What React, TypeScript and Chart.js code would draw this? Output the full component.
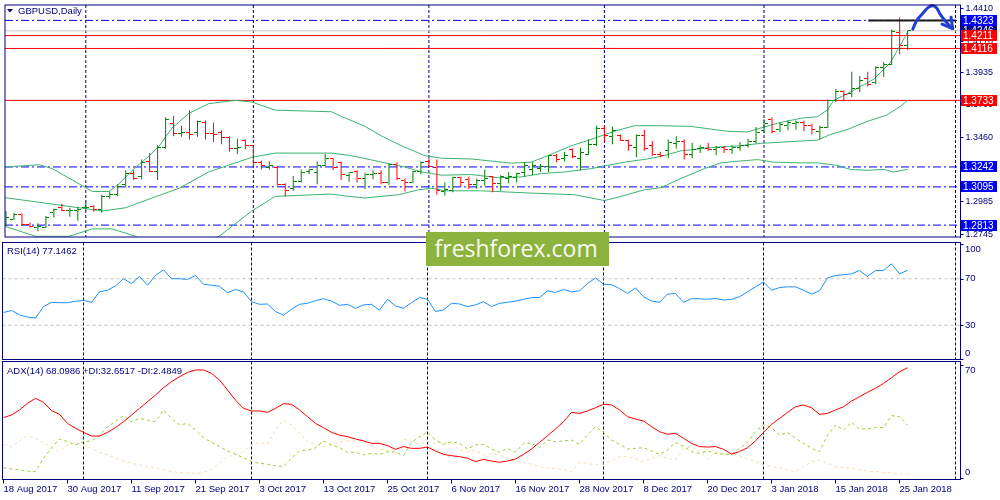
import React, { useEffect, useRef } from 'react';
import { Chart, registerables } from 'chart.js';

Chart.register(...registerables);

// ---------------- data ----------------
// Daily bars, 18 Aug 2017 .. 26 Jan 2018 (index 0..113)
const barOpen = [
  1.2860, 1.2857, 1.2893, 1.2821, 1.2797, 1.2797, 1.2905, 1.2941, 1.2917, 1.2917,
  1.2941, 1.2953, 1.2927, 1.3025, 1.3042, 1.3109, 1.3193, 1.3169, 1.3282, 1.3205,
  1.3385, 1.3560, 1.3488, 1.3498, 1.3493, 1.3570, 1.3488, 1.3493, 1.3457, 1.3378,
  1.3440, 1.3397, 1.3277, 1.3241, 1.3241, 1.3114, 1.3085, 1.3138, 1.3210, 1.3200,
  1.3253, 1.3301, 1.3277, 1.3181, 1.3205, 1.3157, 1.3186, 1.3193, 1.3128, 1.3258,
  1.3145, 1.3128, 1.3205, 1.3282, 1.3241, 1.3061, 1.3066, 1.3162, 1.3150, 1.3114,
  1.3145, 1.3169, 1.3121, 1.3157, 1.3162, 1.3200, 1.3224, 1.3234, 1.3248, 1.3330,
  1.3306, 1.3368, 1.3306, 1.3337, 1.3409, 1.3529, 1.3469, 1.3474, 1.3440, 1.3385,
  1.3474, 1.3397, 1.3337, 1.3361, 1.3416, 1.3433, 1.3337, 1.3378, 1.3378, 1.3368,
  1.3383, 1.3368, 1.3385, 1.3397, 1.3433, 1.3513, 1.3594, 1.3517, 1.3546, 1.3560,
  1.3570, 1.3546, 1.3505, 1.3536, 1.3733, 1.3800, 1.3781, 1.3824, 1.3896, 1.3865,
  1.3978, 1.3997, 1.4237, 1.4141,
];
const barHigh = [
  1.2917, 1.2905, 1.2898, 1.2833, 1.2826, 1.2881, 1.2936, 1.2970, 1.2941, 1.2946,
  1.2989, 1.2960, 1.3037, 1.3061, 1.3114, 1.3217, 1.3217, 1.3296, 1.3344, 1.3402,
  1.3608, 1.3618, 1.3546, 1.3661, 1.3584, 1.3584, 1.3570, 1.3513, 1.3469, 1.3450,
  1.3445, 1.3402, 1.3289, 1.3282, 1.3248, 1.3121, 1.3176, 1.3224, 1.3229, 1.3282,
  1.3337, 1.3306, 1.3282, 1.3205, 1.3217, 1.3200, 1.3217, 1.3217, 1.3265, 1.3277,
  1.3157, 1.3210, 1.3284, 1.3306, 1.3296, 1.3128, 1.3169, 1.3169, 1.3169, 1.3157,
  1.3224, 1.3176, 1.3181, 1.3205, 1.3200, 1.3277, 1.3277, 1.3265, 1.3330, 1.3337,
  1.3354, 1.3378, 1.3385, 1.3445, 1.3546, 1.3546, 1.3541, 1.3481, 1.3445, 1.3481,
  1.3517, 1.3433, 1.3354, 1.3445, 1.3469, 1.3445, 1.3421, 1.3402, 1.3421, 1.3397,
  1.3397, 1.3402, 1.3426, 1.3450, 1.3536, 1.3594, 1.3608, 1.3570, 1.3584, 1.3584,
  1.3584, 1.3560, 1.3546, 1.3738, 1.3817, 1.3805, 1.3944, 1.3913, 1.3944, 1.3985,
  1.4016, 1.4256, 1.4345, 1.4249,
];
const barLow = [
  1.2809, 1.2850, 1.2809, 1.2797, 1.2768, 1.2792, 1.2869, 1.2917, 1.2874, 1.2845,
  1.2917, 1.2912, 1.2905, 1.3008, 1.3025, 1.3090, 1.3145, 1.3152, 1.3205, 1.3145,
  1.3378, 1.3469, 1.3464, 1.3445, 1.3464, 1.3445, 1.3426, 1.3409, 1.3354, 1.3337,
  1.3373, 1.3248, 1.3224, 1.3224, 1.3104, 1.3025, 1.3066, 1.3128, 1.3190, 1.3114,
  1.3248, 1.3217, 1.3145, 1.3133, 1.3128, 1.3080, 1.3152, 1.3114, 1.3109, 1.3145,
  1.3061, 1.3121, 1.3186, 1.3241, 1.3037, 1.3032, 1.3056, 1.3097, 1.3080, 1.3080,
  1.3104, 1.3056, 1.3066, 1.3121, 1.3128, 1.3169, 1.3181, 1.3205, 1.3205, 1.3277,
  1.3282, 1.3306, 1.3217, 1.3330, 1.3397, 1.3426, 1.3409, 1.3433, 1.3361, 1.3313,
  1.3361, 1.3325, 1.3313, 1.3306, 1.3378, 1.3296, 1.3306, 1.3344, 1.3361, 1.3330,
  1.3344, 1.3337, 1.3361, 1.3385, 1.3416, 1.3493, 1.3488, 1.3498, 1.3513, 1.3517,
  1.3505, 1.3481, 1.3445, 1.3529, 1.3721, 1.3733, 1.3757, 1.3793, 1.3834, 1.3853,
  1.3906, 1.3992, 1.4074, 1.4105,
];
const barClose = [
  1.2869, 1.2893, 1.2814, 1.2802, 1.2802, 1.2869, 1.2929, 1.2922, 1.2922, 1.2929,
  1.2946, 1.2927, 1.3025, 1.3037, 1.3097, 1.3193, 1.3157, 1.3277, 1.3205, 1.3385,
  1.3589, 1.3488, 1.3498, 1.3484, 1.3577, 1.3488, 1.3481, 1.3457, 1.3378, 1.3385,
  1.3397, 1.3272, 1.3253, 1.3253, 1.3114, 1.3066, 1.3138, 1.3200, 1.3222, 1.3253,
  1.3301, 1.3241, 1.3186, 1.3200, 1.3157, 1.3186, 1.3193, 1.3128, 1.3258, 1.3157,
  1.3128, 1.3205, 1.3277, 1.3248, 1.3066, 1.3073, 1.3162, 1.3128, 1.3114, 1.3145,
  1.3155, 1.3121, 1.3169, 1.3169, 1.3193, 1.3253, 1.3253, 1.3248, 1.3325, 1.3296,
  1.3325, 1.3320, 1.3349, 1.3409, 1.3529, 1.3474, 1.3513, 1.3440, 1.3397, 1.3474,
  1.3378, 1.3337, 1.3325, 1.3421, 1.3426, 1.3337, 1.3373, 1.3385, 1.3368, 1.3383,
  1.3368, 1.3385, 1.3397, 1.3433, 1.3498, 1.3560, 1.3505, 1.3553, 1.3570, 1.3570,
  1.3546, 1.3517, 1.3536, 1.3733, 1.3800, 1.3776, 1.3817, 1.3882, 1.3848, 1.3978,
  1.3997, 1.4241, 1.4136, 1.4246,
];

// Bollinger bands: [bar index, price]
const bbUpperIdx = [-0.42, 4.17, 5.83, 10.83, 12.9, 14, 16.25, 17.9, 19.2, 20.8, 22.9, 25.4, 28.75, 30.8, 33.75, 40.8, 42.1, 45, 47.1, 49.6, 52.5, 54.6, 58.3, 63.3, 65.8, 67.9, 70.8, 73.3, 76.25, 78.75, 82.1, 85.8, 90.4, 92.9, 94.6, 96.7, 99.6, 101.7, 102.9, 103.75, 105.4, 108.75, 110.8, 112.1, 113];
const bbUpperVal = [1.3241, 1.3258, 1.3229, 1.3061, 1.3061, 1.3109, 1.3240, 1.3320, 1.3397, 1.3529, 1.3637, 1.3709, 1.3733, 1.3721, 1.3661, 1.3649, 1.3613, 1.3541, 1.3469, 1.3397, 1.3325, 1.3306, 1.3301, 1.3270, 1.3277, 1.3325, 1.3397, 1.3445, 1.3505, 1.3546, 1.3546, 1.3541, 1.3505, 1.3500, 1.3529, 1.3565, 1.3601, 1.3613, 1.3661, 1.3733, 1.3781, 1.3889, 1.4009, 1.4141, 1.4237];
const bbMidIdx = [-0.42, 12.1, 15, 18.3, 21.7, 25.4, 30.8, 33.75, 40.8, 43.3, 47.1, 50, 52.1, 54.6, 58.3, 61.7, 64.6, 67.1, 70, 73.3, 75.4, 77.5, 80.4, 82.1, 84.6, 88.3, 91.7, 94.6, 97.5, 101.7, 103.3, 105.4, 107.9, 110.4, 112.1, 113];
const bbMidVal = [1.3018, 1.2917, 1.2941, 1.3013, 1.3085, 1.3205, 1.3313, 1.3344, 1.3344, 1.3325, 1.3277, 1.3241, 1.3205, 1.3181, 1.3186, 1.3162, 1.3169, 1.3193, 1.3205, 1.3229, 1.3253, 1.3277, 1.3301, 1.3320, 1.3361, 1.3385, 1.3397, 1.3416, 1.3426, 1.3440, 1.3481, 1.3517, 1.3577, 1.3625, 1.3690, 1.3733];
const bbLowIdx = [-0.42, 3.75, 7.9, 10.8, 13.3, 16.25, 19.2, 22.9, 25.4, 26.7, 30.8, 33.75, 40.8, 42.9, 45, 47.1, 49.2, 51.7, 53.3, 55, 59.6, 65.8, 71.25, 75, 77.1, 80, 82.1, 84.6, 87.5, 89.6, 91.25, 94.2, 96.25, 99.6, 101.7, 104.2, 105.8, 107.9, 110, 111.25, 113];
const bbLowVal = [1.2809, 1.2730, 1.2730, 1.2785, 1.2785, 1.2730, 1.2640, 1.2570, 1.2700, 1.2730, 1.2917, 1.3025, 1.3042, 1.3025, 1.3013, 1.3025, 1.3037, 1.3073, 1.3085, 1.3066, 1.3066, 1.3049, 1.3037, 1.2994, 1.3025, 1.3073, 1.3090, 1.3157, 1.3229, 1.3272, 1.3282, 1.3296, 1.3277, 1.3272, 1.3272, 1.3253, 1.3224, 1.3217, 1.3224, 1.3205, 1.3224];

const rsiValues = [
  41.0, 42.7, 39.0, 37.0, 36.2, 46.1, 49.7, 49.4, 49.4, 50.6,
  51.4, 49.7, 58.7, 60.1, 63.8, 70.0, 65.8, 72.0, 64.4, 72.8,
  77.6, 70.0, 70.0, 69.4, 72.8, 65.2, 64.4, 63.5, 57.9, 60.7,
  58.7, 50.3, 48.0, 48.3, 41.8, 38.7, 43.8, 48.0, 48.9, 51.1,
  52.8, 50.8, 47.2, 48.0, 44.6, 47.5, 48.0, 43.0, 52.3, 46.6,
  44.6, 49.4, 53.9, 52.3, 41.8, 43.2, 48.9, 48.3, 46.1, 47.5,
  50.3, 46.1, 48.9, 49.7, 50.8, 52.3, 53.7, 53.9, 59.6, 58.2,
  60.7, 58.7, 59.6, 65.8, 70.6, 65.2, 64.9, 61.5, 57.3, 62.1,
  54.5, 50.8, 49.7, 56.8, 57.3, 49.7, 52.8, 52.8, 52.3, 53.1,
  51.7, 52.3, 54.5, 58.7, 63.0, 67.2, 60.1, 62.4, 63.0, 63.0,
  60.1, 56.8, 59.6, 70.6, 72.8, 73.4, 74.2, 77.0, 72.0, 77.0,
  77.0, 82.7, 74.2, 77.1462,
];
const adxValues = [
  37.3, 38.9, 42.0, 46.1, 49.2, 46.7, 41.6, 39.3, 33.7, 30.7,
  28.2, 25.9, 25.9, 28.2, 31.1, 34.8, 38.9, 43.0, 47.1, 51.2,
  55.8, 59.5, 62.5, 65.2, 66.7, 66.7, 64.6, 60.5, 54.3, 48.1,
  43.0, 41.4, 41.4, 40.5, 43.0, 45.9, 45.5, 42.0, 37.9, 33.7,
  31.1, 28.2, 26.5, 25.5, 24.1, 22.9, 21.4, 21.4, 20.0, 17.7,
  19.4, 18.3, 18.3, 19.1, 16.7, 14.6, 13.8, 13.2, 12.2, 10.1,
  11.5, 10.5, 9.7, 10.5, 11.7, 14.6, 17.9, 22.0, 26.1, 30.3,
  34.8, 40.5, 39.9, 41.4, 43.4, 45.5, 45.1, 42.0, 37.9, 36.4,
  35.2, 31.7, 28.6, 27.0, 27.6, 24.5, 21.4, 19.4, 19.1, 19.4,
  17.7, 14.8, 16.3, 18.7, 22.9, 28.2, 33.1, 36.8, 40.5, 44.0,
  45.1, 43.4, 39.3, 39.9, 42.0, 44.0, 47.5, 50.2, 52.9, 55.4,
  58.4, 61.9, 65.6, 68.0986,
];
const plusDiValues = [
  6.4, 5.6, 5.0, 4.3, 3.9, 12.2, 18.7, 24.1, 22.4, 20.4,
  22.4, 22.9, 26.5, 31.7, 34.8, 38.5, 34.8, 36.8, 35.8, 34.8,
  42.0, 36.8, 32.7, 33.7, 29.6, 24.9, 22.0, 19.4, 16.7, 14.6,
  12.6, 10.1, 9.1, 8.5, 7.6, 7.0, 12.2, 16.7, 17.3, 18.7,
  22.9, 20.4, 18.7, 15.9, 15.9, 14.2, 15.2, 14.6, 16.3, 15.9,
  13.8, 22.0, 25.5, 28.2, 23.4, 20.8, 22.4, 21.4, 17.9, 20.4,
  20.8, 17.9, 15.9, 18.3, 15.9, 21.4, 21.4, 18.7, 23.4, 22.4,
  22.9, 23.4, 20.8, 26.5, 31.7, 28.2, 23.4, 20.8, 17.9, 18.3,
  18.7, 16.7, 14.6, 17.3, 22.0, 19.4, 16.3, 15.2, 16.7, 15.2,
  14.6, 14.6, 18.3, 22.0, 28.6, 33.1, 31.1, 26.5, 28.2, 24.5,
  21.4, 18.3, 16.3, 26.5, 32.7, 29.6, 34.4, 30.3, 30.3, 31.1,
  31.1, 38.5, 37.9, 32.6517,
];
const minusDiValues = [
  20.8, 19.4, 22.9, 26.1, 24.5, 22.0, 18.7, 16.3, 20.4, 22.0,
  20.4, 18.3, 15.9, 14.2, 12.2, 10.5, 9.1, 8.0, 7.0, 6.4,
  5.0, 3.9, 3.5, 2.9, 2.7, 3.5, 5.6, 9.1, 13.2, 14.2,
  16.3, 20.4, 22.0, 20.8, 29.6, 35.8, 32.7, 27.6, 22.4, 20.8,
  19.4, 20.0, 22.0, 22.9, 22.9, 22.9, 19.4, 17.9, 17.3, 17.3,
  24.1, 22.4, 20.8, 22.4, 21.4, 22.0, 21.4, 17.3, 16.3, 17.3,
  14.2, 15.2, 14.2, 12.2, 10.5, 9.7, 8.5, 7.0, 6.0, 6.0,
  5.0, 3.9, 9.7, 9.1, 8.0, 9.1, 10.5, 13.2, 13.2, 12.2,
  10.1, 12.2, 13.8, 12.2, 11.1, 18.3, 19.4, 16.3, 11.7, 16.3,
  15.2, 14.6, 13.8, 11.7, 10.1, 8.0, 7.0, 6.4, 5.0, 3.9,
  7.0, 10.1, 11.1, 9.1, 7.0, 6.4, 6.0, 5.0, 4.3, 3.9,
  3.5, 3.1, 2.5, 2.4849,
];

const dateTickIdx = [0, 8, 16, 24, 32, 40, 48, 56, 64, 72, 80, 88, 96, 104, 112];
const dateLabels = [
  '18 Aug 2017', '30 Aug 2017', '11 Sep 2017', '21 Sep 2017', '3 Oct 2017',
  '13 Oct 2017', '25 Oct 2017', '6 Nov 2017', '16 Nov 2017', '28 Nov 2017',
  '8 Dec 2017', '20 Dec 2017', '3 Jan 2018', '15 Jan 2018', '25 Jan 2018',
];
const monthGridIdx = [10, 31, 53, 75, 95, 119];

const priceTicks = [1.441, 1.417, 1.3935, 1.37, 1.346, 1.3225, 1.2985, 1.2745];
const blueLevels = [1.4323, 1.3242, 1.3095, 1.2813];
const redLevels = [1.4211, 1.4116, 1.3733];
const bidPrice = 1.4246;
const rsiLevels = [70, 30];
const rsiTicks = [100, 70, 30, 0];
const adxTicks = [70, 0];

// hand-drawn marks (bar index, price)
const arrowIdx = [113.65, 113.94, 114.23, 114.65, 115.19, 115.6, 116.03, 116.44, 116.73, 117.06, 117.48, 117.9, 118.4, 118.65];
const arrowPrice = [1.4258, 1.4299, 1.433, 1.4359, 1.4395, 1.4419, 1.4431, 1.4426, 1.4406, 1.437, 1.4335, 1.4306, 1.4275, 1.4263];
const arrowHeadIdx = [118.44, 118.65, 117.31];
const arrowHeadPrice = [1.4347, 1.4263, 1.4296];
const markIdx = [108.06, 119.0];
const markPrice = 1.4323;

// ---------------- styles ----------------
const NAVY = '#000080';
const FONT_FAMILY = '"Liberation Sans", Arial, Helvetica, sans-serif';
const BULL = '#008000';
const BEAR = '#FF0000';
const BAND = '#3CB371';
const X_MIN = -0.125;
const X_MAX = 119.625;

type Deco = {
  vgrid: number[];
  title?: string;
  titleX?: number;
  titleY?: number;
  triangle?: boolean;
  axisLabels?: number[];
  clampTop?: number;
  clampBottom?: number;
  boxes?: { v: number; bg: string }[];
};

function panelPlugin(deco: Deco) {
  return {
    id: 'mtPanel',
    beforeDatasetsDraw(chart: any) {
      const { ctx, chartArea: a } = chart;
      const xs = chart.scales.x;
      ctx.save();
      ctx.strokeStyle = NAVY;
      ctx.lineWidth = 1;
      ctx.setLineDash([3, 2]);
      deco.vgrid.forEach((g) => {
        const x = xs.getPixelForValue(g);
        ctx.beginPath();
        ctx.moveTo(x, a.top);
        ctx.lineTo(x, a.bottom);
        ctx.stroke();
      });
      ctx.restore();
      ctx.imageSmoothingEnabled = false;
    },
    afterDatasetsDraw(chart: any) {
      chart.ctx.imageSmoothingEnabled = true;
    },
    afterDraw(chart: any) {
      const { ctx, chartArea: a } = chart;
      const ys = chart.scales.y;
      ctx.save();
      ctx.setLineDash([]);
      ctx.strokeStyle = NAVY;
      ctx.lineWidth = 1;
      ctx.strokeRect(a.left, a.top, a.right - a.left, a.bottom - a.top);
      ctx.textBaseline = 'middle';
      ctx.textAlign = 'left';
      ctx.font = `9.5px ${FONT_FAMILY}`;
      ctx.fillStyle = NAVY;
      if (deco.axisLabels) {
        deco.axisLabels.forEach((v) => {
          const py = ys.getPixelForValue(v);
          const ty = Math.round(Math.min(Math.max(py, a.top), a.bottom - 1)) + 0.5;
          ctx.beginPath();
          ctx.moveTo(a.right, ty);
          ctx.lineTo(a.right + 3, ty);
          ctx.stroke();
          const ly = Math.min(Math.max(py, a.top + (deco.clampTop || 0)), a.bottom - (deco.clampBottom || 0));
          ctx.fillText(String(v), a.right + 4.5, ly);
        });
      }
      if (deco.boxes) {
        ctx.font = `10px ${FONT_FAMILY}`;
        deco.boxes.forEach((b) => {
          const py = ys.getPixelForValue(b.v);
          const top = Math.round(py - 5.5);
          ctx.fillStyle = b.bg;
          ctx.fillRect(a.right + 0.5, top, 36, 11);
          ctx.fillStyle = '#FFFFFF';
          ctx.fillText(b.v.toFixed(4), a.right + 2.5, top + 6);
        });
      }
      if (deco.title) {
        ctx.fillStyle = NAVY;
        ctx.font = `9.5px ${FONT_FAMILY}`;
        if (deco.triangle) {
          ctx.beginPath();
          ctx.moveTo(7, 9);
          ctx.lineTo(13, 9);
          ctx.lineTo(10, 12.5);
          ctx.closePath();
          ctx.fill();
        }
        ctx.fillText(deco.title, deco.titleX || 7, deco.titleY || 10);
      }
      ctx.restore();
    },
  };
}

function tickImage(color: string, left: boolean) {
  const c = document.createElement('canvas');
  c.width = 7;
  c.height = 1;
  const g = c.getContext('2d')!;
  g.fillStyle = color;
  g.fillRect(left ? 0 : 4, 0, 3, 1);
  return c;
}

const pts = (xs: number[], ys: number[]) => xs.map((x, k) => ({ x, y: ys[k] }));
const series = (vals: number[]) => vals.map((y, i) => ({ x: i, y }));
const hline = (v: number) => [{ x: X_MIN, y: v }, { x: X_MAX, y: v }];

const baseOptions = (padding: any, scales: any) => ({
  responsive: false,
  maintainAspectRatio: false,
  animation: false as const,
  devicePixelRatio: 1,
  events: [] as any[],
  layout: { padding },
  plugins: { legend: { display: false }, tooltip: { enabled: false }, title: { display: false } },
  scales,
});

const hiddenX = { type: 'linear', min: X_MIN, max: X_MAX, display: false, offset: false };

export default function App() {
  const mainRef = useRef<HTMLCanvasElement>(null);
  const rsiRef = useRef<HTMLCanvasElement>(null);
  const adxRef = useRef<HTMLCanvasElement>(null);

  useEffect(() => {
    const openBull = tickImage(BULL, true);
    const openBear = tickImage(BEAR, true);
    const closeBull = tickImage(BULL, false);
    const closeBear = tickImage(BEAR, false);
    const isBull = (i: number) => barClose[i] >= barOpen[i];
    const line = (data: any, color: string, extra: any = {}) => ({
      type: 'line', data, borderColor: color, borderWidth: 1, pointRadius: 0, tension: 0, fill: false, ...extra,
    });

    const mainDatasets: any[] = [
      line(pts(arrowIdx, arrowPrice), '#1F3FD6', { borderWidth: 3, tension: 0.35, clip: false, order: 0, borderCapStyle: 'round', borderJoinStyle: 'round' }),
      line(pts(arrowHeadIdx, arrowHeadPrice), '#1F3FD6', { borderWidth: 3, clip: false, order: 0, borderCapStyle: 'round', borderJoinStyle: 'round' }),
      line(pts(markIdx, [markPrice, markPrice]), '#1A1A1A', { borderWidth: 2, order: 1 }),
      {
        type: 'line', showLine: false, order: 2, data: series(barOpen),
        pointRadius: 3, pointStyle: (c: any) => (isBull(c.dataIndex) ? openBull : openBear),
      },
      {
        type: 'line', showLine: false, order: 2, data: series(barClose),
        pointRadius: 3, pointStyle: (c: any) => (isBull(c.dataIndex) ? closeBull : closeBear),
      },
      {
        type: 'bar', order: 3, grouped: false, barThickness: 1, borderWidth: 0, inflateAmount: 0,
        data: barHigh.map((h, i) => ({ x: i, y: [barLow[i], h] })),
        backgroundColor: barHigh.map((_, i) => (isBull(i) ? BULL : BEAR)),
      },
      line(pts(bbUpperIdx, bbUpperVal), BAND, { order: 4 }),
      line(pts(bbMidIdx, bbMidVal), BAND, { order: 4 }),
      line(pts(bbLowIdx, bbLowVal), BAND, { order: 4 }),
      ...redLevels.map((v) => line(hline(v), '#FF0000', { order: 5 })),
      ...blueLevels.map((v) => line(hline(v), '#0000FF', { order: 6, borderDash: [8, 3, 2, 3] })),
      line(hline(bidPrice), '#C8C8C8', { order: 7 }),
    ];

    const main = new Chart(mainRef.current!, {
      type: 'line',
      data: { datasets: mainDatasets },
      options: baseOptions({ left: 2.5, top: 2.5, right: 0, bottom: 1.5 }, {
        x: hiddenX,
        y: {
          type: 'linear', position: 'right', min: 1.27252, max: 1.44366,
          afterBuildTicks: (s: any) => { s.ticks = priceTicks.map((v) => ({ value: v })); },
          afterFit: (s: any) => { s.width = 39.5; s.paddingTop = 0; s.paddingBottom = 0; },
          grid: { display: true, drawOnChartArea: false, drawTicks: true, tickLength: 3, color: NAVY, tickColor: NAVY },
          border: { display: true, color: NAVY, width: 1 },
          ticks: {
            autoSkip: false, padding: 2, color: NAVY,
            font: { family: FONT_FAMILY, size: 9 },
            callback: (v: any) => Number(v).toFixed(4),
          },
        },
      }) as any,
      plugins: [panelPlugin({
        vgrid: monthGridIdx,
        title: 'GBPUSD,Daily', titleX: 18, titleY: 11, triangle: true,
        boxes: [
          { v: bidPrice, bg: '#000080' },
          ...blueLevels.map((v) => ({ v, bg: '#0000FF' })),
          ...redLevels.map((v) => ({ v, bg: '#FF0000' })),
        ],
      })],
    } as any);

    const rsi = new Chart(rsiRef.current!, {
      type: 'line',
      data: {
        datasets: [
          line(series(rsiValues), '#1E90FF', { order: 0 }),
          ...rsiLevels.map((v) => line(hline(v), '#C0C0C0', { order: 1, borderDash: [3, 3] })),
        ],
      },
      options: baseOptions({ left: 2.5, top: 0.5, right: 39.5, bottom: 1.5 }, {
        x: hiddenX,
        y: { type: 'linear', min: 0.64, max: 101.07, display: false },
      }) as any,
      plugins: [panelPlugin({
        vgrid: monthGridIdx, title: 'RSI(14) 77.1462', titleX: 7, titleY: 9.7,
        axisLabels: rsiTicks, clampTop: 7.2, clampBottom: 5.8,
      })],
    } as any);

    const adx = new Chart(adxRef.current!, {
      type: 'line',
      data: {
        datasets: [
          line(series(adxValues), '#FF0000', { order: 0 }),
          line(series(plusDiValues), '#9ACD32', { order: 1, borderDash: [3, 3] }),
          line(series(minusDiValues), '#F5DEB3', { order: 2, borderDash: [3, 3] }),
        ],
      },
      options: baseOptions({ left: 2.5, top: 0.5, right: 39.5, bottom: 0 }, {
        x: {
          type: 'linear', min: X_MIN, max: X_MAX, offset: false, position: 'bottom',
          afterBuildTicks: (s: any) => { s.ticks = dateTickIdx.map((v) => ({ value: v })); },
          afterFit: (s: any) => { s.height = 20.5; s.paddingLeft = 0; s.paddingRight = 0; },
          grid: { display: true, drawOnChartArea: false, drawTicks: true, tickLength: 4, color: NAVY, tickColor: NAVY, offset: false },
          border: { display: true, color: NAVY },
          ticks: {
            autoSkip: false, maxRotation: 0, minRotation: 0, align: 'start', padding: 0, color: NAVY,
            font: { family: FONT_FAMILY, size: 9.5 },
            callback: (_v: any, i: number) => dateLabels[i],
          },
        },
        y: { type: 'linear', min: -0.92, max: 71.93, display: false },
      }) as any,
      plugins: [panelPlugin({
        vgrid: monthGridIdx, title: 'ADX(14) 68.0986 +DI:32.6517 -DI:2.4849', titleX: 7, titleY: 10,
        axisLabels: adxTicks, clampTop: 8.5, clampBottom: 7.2,
      })],
    } as any);

    return () => {
      main.destroy();
      rsi.destroy();
      adx.destroy();
    };
  }, []);

  const canvasStyle = (top: number, h: number): React.CSSProperties => ({
    position: 'absolute', left: 0, top, width: 1000, height: h, display: 'block',
  });

  return (
    <div style={{ position: 'absolute', left: 0, top: 0, width: 1000, height: 500, background: '#FFFFFF', overflow: 'hidden' }}>
      <canvas ref={mainRef} width={1000} height={242} style={canvasStyle(0, 242)} />
      <canvas ref={rsiRef} width={1000} height={119} style={canvasStyle(242, 119)} />
      <canvas ref={adxRef} width={1000} height={139} style={canvasStyle(361, 139)} />
      <div
        style={{
          position: 'absolute', left: 426, top: 232, width: 183, height: 34,
          background: '#8DB33F', color: '#F7FAF0', fontFamily: '"Open Sans", sans-serif',
          fontSize: 23, lineHeight: '32px', paddingLeft: 8.5, boxSizing: 'border-box', whiteSpace: 'nowrap',
        }}
      >
        freshforex.com
      </div>
    </div>
  );
}
